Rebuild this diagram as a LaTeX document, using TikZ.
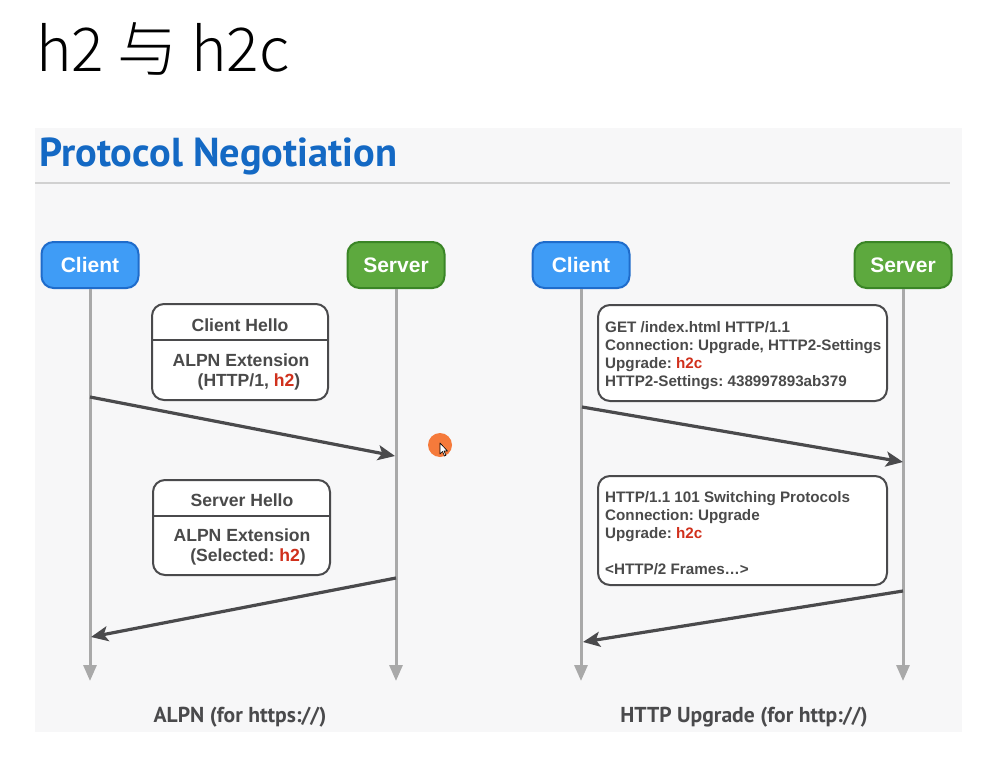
\documentclass[tikz,border=0pt]{standalone}
\usepackage{fontspec}
\setmainfont{Liberation Sans}
\newfontfamily\cjkfont{Noto Sans CJK SC}[UprightFont={* Light}]
\newfontfamily\ptfont{PT Sans}
\usetikzlibrary{arrows.meta}
\frenchspacing
\definecolor{panelbg}{HTML}{F7F7F8}
\definecolor{titleblue}{HTML}{1469C4}
\definecolor{cblue}{HTML}{3F9CF6}
\definecolor{cblueD}{HTML}{1F6CCB}
\definecolor{sgreen}{HTML}{5DA93E}
\definecolor{sgreenD}{HTML}{3A8526}
\definecolor{lifegray}{HTML}{A9A9A9}
\definecolor{msggray}{HTML}{4A4A4C}
\definecolor{boxtext}{HTML}{4A4A4A}
\definecolor{hred}{HTML}{D0301C}
\definecolor{dotorange}{HTML}{F57A3B}
\tikzset{
  actor/.style={draw, line width=2pt, rounded corners=12pt, minimum width=97pt, minimum height=46pt,
    text=white, font=\bfseries\fontsize{21}{21}\selectfont, inner sep=0pt},
  clientbox/.style={actor, fill=cblue, draw=cblueD},
  serverbox/.style={actor, fill=sgreen, draw=sgreenD},
  life/.style={draw=lifegray, line width=3pt, -{Triangle[length=16pt,width=13pt]}},
  msg/.style={draw=msggray, line width=3.2pt, -{Stealth[length=17pt,width=15pt,inset=4pt]}},
  msgbox/.style={draw=msggray, line width=2pt, fill=white, rounded corners=12pt, inner sep=0pt},
  cline/.style={text=boxtext, font=\bfseries\fontsize{17.6}{17.6}\selectfont, inner sep=0pt},
  lline/.style={text=boxtext, font=\bfseries\fontsize{15.2}{18}\selectfont, inner sep=0pt, anchor=north west, align=left},
  caption/.style={text=msggray, font=\ptfont\bfseries\fontsize{21.6}{21.6}\selectfont, inner sep=0pt, anchor=base},
}
\newcommand{\hr}[1]{\textcolor{hred}{#1}}
\begin{document}
\begin{tikzpicture}[x=1pt,y=-1pt]
\useasboundingbox (0,0) rectangle (994,760);
\fill[white] (0,0) rectangle (994,760);
\fill[panelbg] (35,128) rectangle (962,732);
\draw[black!18, line width=1.5pt] (35,183) -- (950,183);

% titles
\node[anchor=base west, inner sep=0pt, font=\cjkfont\fontsize{60.5}{60.5}\selectfont] (maintitle) at (36,72) {h2 与 h2c};
\node[anchor=base west, inner sep=0pt, text=titleblue, font=\ptfont\bfseries\fontsize{40.4}{40.4}\selectfont] (subtitle) at (39,166) {Protocol Negotiation};

% actors
\node[clientbox] (c1) at (90,265) {Client};
\node[serverbox] (s1) at (396,265) {Server};
\node[clientbox] (c2) at (581,265) {Client};
\node[serverbox] (s2) at (903,265) {Server};

\coordinate (c1end) at (90,681);
\coordinate (s1end) at (396,681);
\coordinate (c2end) at (581,681);
\coordinate (s2end) at (903,681);
\draw[life] (c1) -- (c1end);
\draw[life] (s1) -- (s1end);
\draw[life] (c2) -- (c2end);
\draw[life] (s2) -- (s2end);

% left messages
\coordinate (m1a) at (90,397);
\coordinate (m1b) at (395,456);
\coordinate (m2a) at (396,578);
\coordinate (m2b) at (91,637);
\draw[msg] (m1a) -- (m1b);
\draw[msg] (m2a) -- (m2b);

% right messages
\coordinate (m3a) at (582,407);
\coordinate (m3b) at (903,462);
\coordinate (m4a) at (903,591);
\coordinate (m4b) at (583,642);
\draw[msg] (m3a) -- (m3b);
\draw[msg] (m4a) -- (m4b);

% Client Hello box
\node[msgbox, minimum width=176pt, minimum height=96pt] (b1) at (240,352) {};
\draw[msggray, line width=2pt] ([yshift=-37pt]b1.north west) -- ([yshift=-37pt]b1.north east);
\node[cline] (b1t) at (240,325) {Client Hello};
\node[cline] (b1u) at (241,360) {ALPN Extension};
\node[cline] (b1v) at (249,382) {(HTTP/1, \hr{h2})};

% Server Hello box
\node[msgbox, minimum width=177pt, minimum height=95pt] (b2) at (241.5,527.5) {};
\draw[msggray, line width=2pt] ([yshift=-37pt]b2.north west) -- ([yshift=-37pt]b2.north east);
\node[cline] (b2t) at (242,500) {Server Hello};
\node[cline] (b2u) at (242,535) {ALPN Extension};
\node[cline] (b2v) at (248,557) {(Selected: \hr{h2})};

% right boxes
\node[msgbox, minimum width=289pt, minimum height=96pt] (b3) at (742.5,353) {};
\node[lline] (b3t) at (605,321.5) {GET /index.html HTTP/1.1\\Connection: Upgrade, HTTP2-Settings\\Upgrade: \hr{h2c}\\HTTP2-Settings: 438997893ab379};

\node[msgbox, minimum width=289pt, minimum height=109pt] (b4) at (742.5,530.5) {};
\node[lline] (b4t) at (605,491) {HTTP/1.1 101 Switching Protocols\\Connection: Upgrade\\Upgrade: \hr{h2c}\\[18pt]\textless HTTP/2 Frames\ldots\textgreater};

% captions
\node[caption] (cap1) at (240,722) {ALPN (for https://)};
\node[caption] (cap2) at (744,722) {HTTP Upgrade (for http://)};

% pointer dot with cursor
\fill[dotorange] (440,445) circle (12pt);
\filldraw[fill=white, draw=black, line width=0.6pt, line join=round]
  (440,443) -- (440,454) -- (442.5,451.5) -- (444.5,456) -- (446,455.3) -- (444,451) -- (447.5,451) -- cycle;
\end{tikzpicture}
\end{document}
